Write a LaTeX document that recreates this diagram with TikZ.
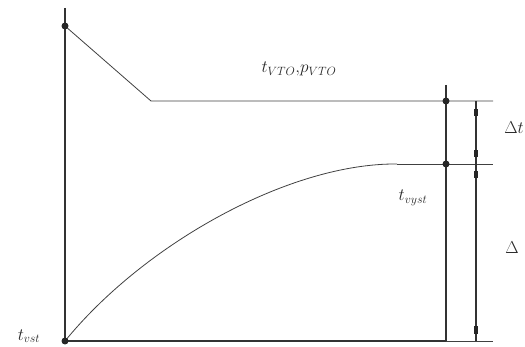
\documentclass[tikz,border=0pt]{standalone}
\usepackage{graphicx}
\begin{document}
\begin{tikzpicture}[x=1pt,y=-1pt,
  thinl/.style={draw=black!75,line width=0.8pt},
  thickl/.style={draw=black!80,line width=1.3pt},
  dimmark/.style={fill=black!85,draw=none},
  dotm/.style={fill=black!85},
  lab/.style={inner sep=0pt,text=black!85,font=\LARGE}]
\useasboundingbox (0,0) rectangle (525,347);
% points
\coordinate (Ltop) at (65,8);
\coordinate (A) at (65,26);
\coordinate (B) at (151,101);
\coordinate (C) at (446,101);
\coordinate (Cx) at (493,101);
\coordinate (Rtop) at (446,85);
\coordinate (D) at (446,164);
\coordinate (Dx) at (493,164);
\coordinate (E) at (397,164);
\coordinate (O) at (65,341);
\coordinate (F) at (446,341);
\coordinate (Fx) at (493,341);
\coordinate (M1) at (476,101);
\coordinate (M3) at (476,341);
% axes and lines
\draw[thickl] (Ltop) -- (O);
\draw[thickl] (O) -- (F);
\draw[thinl] (F) -- (Fx);
\draw[thinl] (A) -- (B) -- (C) -- (Cx);
\draw[thickl,line width=1.1pt] (Rtop) -- (F);
\draw[thinl] (D) -- (Dx);
\draw[thinl] (E) -- (D);
\draw[thinl] (O) .. controls (145,243) and (290,163) .. (E);
% dimension line
\draw[thickl,line width=1.1pt] (M1) -- (M3);
\fill[dimmark] (474,109) rectangle (477.5,116);
\fill[dimmark] (474,150) rectangle (477.5,157);
\fill[dimmark] (474,171) rectangle (477.5,178);
\fill[dimmark] (474,326) rectangle (477.5,334);
% dots
\fill[dotm] (A) circle (3.5);
\fill[dotm] (C) circle (3.5);
\fill[dotm] (D) circle (3.5);
\fill[dotm] (O) circle (3.5);
% labels
\node[lab] (lvto) at (299,69) {$t_{VTO}{,}p_{VTO}$};
\node[lab] (ldt) at (514,128) {$\Delta t$};
\node[lab] (lvyst) at (413,198) {$t_{vyst}$};
\node[lab] (ld) at (512,248) {$\Delta$};
\node[lab] (lvst) at (29,336) {$t_{vst}$};
\end{tikzpicture}
\end{document}
